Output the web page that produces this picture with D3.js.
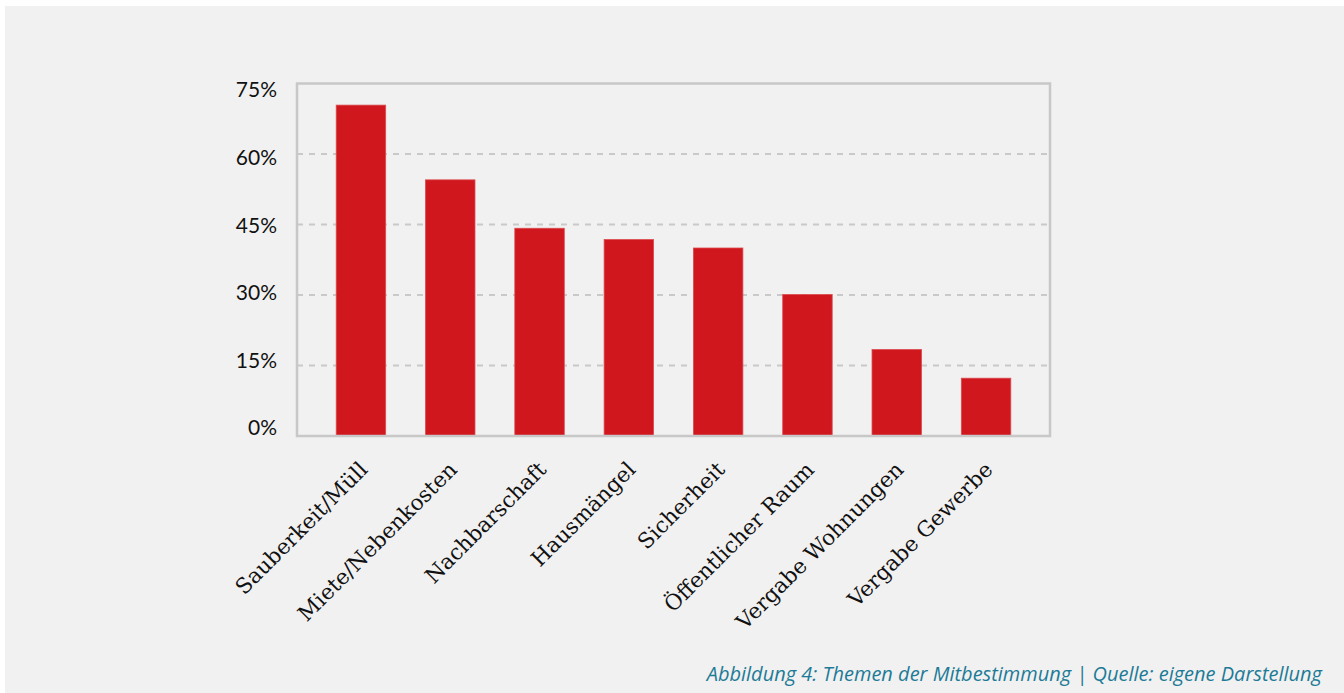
<!DOCTYPE html>
<html>
<head>
<meta charset="utf-8">
<script src="https://cdn.jsdelivr.net/npm/d3@7"></script>
<style>
  body { margin: 0; background: #fff; }
</style>
</head>
<body>
<script>
// Themen der Mitbestimmung
const categories = ["Sauberkeit/Müll", "Miete/Nebenkosten", "Nachbarschaft", "Hausmängel",
  "Sicherheit", "Öffentlicher Raum", "Vergabe Wohnungen", "Vergabe Gewerbe"];
const values = [70.4, 54.5, 44.2, 41.8, 40.0, 30.1, 18.4, 12.3];
const yTicks = [0, 15, 30, 45, 60, 75];
const caption = "Abbildung 4: Themen der Mitbestimmung | Quelle: eigene Darstellung";

const width = 1344;
const height = 693;

const svg = d3.select("body").append("svg")
  .attr("width", width)
  .attr("height", height);

// grey panel
svg.append("rect")
  .attr("x", 5)
  .attr("y", 6)
  .attr("width", width - 5)
  .attr("height", height - 6)
  .attr("fill", "#f1f1f1");

const x0 = 297, x1 = 1050, yTop = 83.5, yBottom = 436;

const x = d3.scaleBand()
  .domain(categories)
  .range([x0, x1])
  .paddingInner(0.446)
  .paddingOuter(0.439);

const y = d3.scaleLinear()
  .domain([0, 75])
  .range([yBottom, yTop]);

// tick labels are spread a little inside the frame in the original
const yLabel = d3.scaleLinear()
  .domain([0, 75])
  .range([428, 90]);

// dashed gridlines
svg.append("g")
  .selectAll("line")
  .data(yTicks.filter(d => d > 0 && d < 75))
  .join("line")
  .attr("x1", x0)
  .attr("x2", x1)
  .attr("y1", d => y(d))
  .attr("y2", d => y(d))
  .attr("stroke", "#c9c9c9")
  .attr("stroke-width", 2)
  .attr("stroke-dasharray", "6,6");

// bars
svg.append("g")
  .selectAll("rect")
  .data(values)
  .join("rect")
  .attr("x", (d, i) => x(categories[i]))
  .attr("y", d => y(d))
  .attr("width", x.bandwidth())
  .attr("height", d => y(0) - y(d))
  .attr("fill", "#cf171d")
  .attr("stroke", "#dc4a4e")
  .attr("stroke-width", 0.8);

// frame
svg.append("rect")
  .attr("x", x0)
  .attr("y", yTop)
  .attr("width", x1 - x0)
  .attr("height", yBottom - yTop)
  .attr("fill", "none")
  .attr("stroke", "#c8c8c8")
  .attr("stroke-width", 2.5);

// y labels
svg.append("g")
  .selectAll("text")
  .data(yTicks)
  .join("text")
  .attr("x", 277)
  .attr("y", d => yLabel(d))
  .attr("dy", "0.35em")
  .attr("text-anchor", "end")
  .style("font-family", "Lato, sans-serif")
  .style("font-size", "21px")
  .style("fill", "#111")
  .text(d => d + "%");

// x labels, rotated
svg.append("g")
  .selectAll("text")
  .data(categories)
  .join("text")
  .attr("transform", d => `translate(${x(d) + x.bandwidth() / 2 + 8},${471}) rotate(-45)`)
  .attr("text-anchor", "end")
  .style("font-family", "'DejaVu Serif', serif")
  .style("font-size", "21.5px")
  .style("fill", "#111")
  .text(d => d);

// caption
svg.append("text")
  .attr("x", 1322)
  .attr("y", 681)
  .attr("text-anchor", "end")
  .style("font-family", "'Open Sans', sans-serif")
  .style("font-style", "italic")
  .style("font-size", "20px")
  .style("fill", "#1d7b97")
  .text(caption);
</script>
</body>
</html>
